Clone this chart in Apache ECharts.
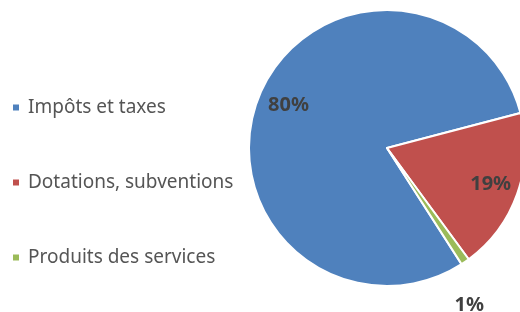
<!DOCTYPE html>
<html style="height: 100%">
<head>
	<meta charset="utf-8">
	<script src="https://cdn.jsdelivr.net/npm/echarts@6/dist/echarts.min.js"></script>
</head>
<body style="height: 100%; margin: 0; background: #fff">
	<div id="container" style="width: 520px; height: 312px"></div>
	<script type="text/javascript">
		// pie data
		let categories = ['Impôts et taxes', 'Dotations, subventions', 'Produits des services'];
		let values = [80, 19, 1];
		let colors = ['#4F81BD', '#C0504D', '#9BBB59'];

		let dom = document.getElementById('container');
		let myChart = echarts.init(dom);

		let pieData = categories.map(function (name, i) {
			return { name: name, value: values[i], itemStyle: { color: colors[i] } };
		});

		let option = {
			animation: false,
			textStyle: { fontFamily: 'Noto Sans' },
			legend: {
				orient: 'vertical',
				left: 6,
				top: 93,
				itemGap: 56,
				itemWidth: 8,
				itemHeight: 8,
				icon: 'rect',
				data: categories,
				textStyle: { fontSize: 19, color: '#555555', fontFamily: 'Noto Sans', padding: [0, 0, 0, 3] }
			},
			series: [
				{
					// the visible pie
					type: 'pie',
					center: [387, 148],
					radius: [0, 138],
					startAngle: 302.7,
					clockwise: true,
					silent: true,
					label: { show: false },
					labelLine: { show: false },
					itemStyle: { borderColor: '#fff', borderWidth: 2 },
					data: pieData
				},
				{
					// transparent ring used only to place the percent labels
					type: 'pie',
					center: [387, 148],
					radius: [76, 138],
					startAngle: 302.7,
					clockwise: true,
					silent: true,
					itemStyle: { color: 'rgba(0,0,0,0)' },
					label: {
						show: true,
						position: 'inside',
						formatter: '{d}%',
						fontSize: 20,
						fontWeight: 'bold',
						color: '#404040',
						fontFamily: 'Noto Sans'
					},
					labelLine: { show: false },
					labelLayout: function (params) {
						if (params.dataIndex === 0) {
							return { dx: 4, dy: -3 };
						}
						if (params.dataIndex === 2) {
							return { dx: 20, dy: 67 };
						}
						return {};
					},
					data: pieData.map(function (d) {
						return { name: d.name, value: d.value };
					})
				}
			]
		};

		myChart.setOption(option);
	</script>
</body>
</html>
